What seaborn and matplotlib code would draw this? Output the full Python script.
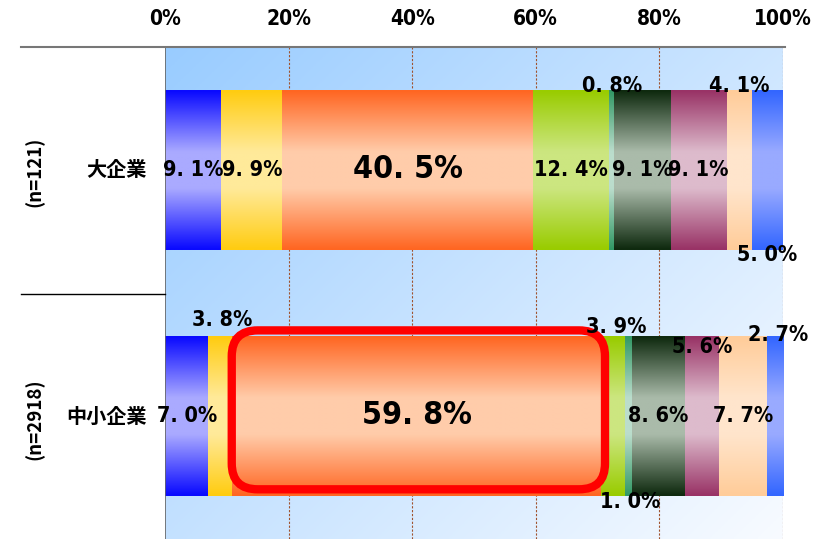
import numpy as np
import pandas as pd
import matplotlib
matplotlib.use("Agg")
import matplotlib.pyplot as plt
import seaborn as sns
from matplotlib.colors import to_rgb
from matplotlib.patches import FancyBboxPatch
from matplotlib.lines import Line2D
from matplotlib import font_manager

# ---- data ----
categories = ["大企業", "中小企業"]
sample_sizes = ["(n=121)", "(n=2918)"]
large_vals = [9.1, 9.9, 40.5, 12.4, 0.8, 9.1, 9.1, 4.1, 5.0]
sme_vals = [7.0, 3.8, 59.8, 3.9, 1.0, 8.6, 5.6, 7.7, 2.7]
tick_values = [0, 20, 40, 60, 80, 100]
tick_labels = ["0%", "20%", "40%", "60%", "80%", "100%"]

edge_colors = ["#0A0AFF", "#FFCC11", "#FF6622", "#99CC00", "#339966",
               "#0F2A0F", "#993366", "#FFCC99", "#3366FF"]
mid_colors = ["#AAAAFF", "#FFEA9A", "#FFCCAA", "#CCE680", "#BBDDCC",
              "#AABBAA", "#DDBBCC", "#FFE5CC", "#99AAFF"]

# label placement tweaks: (row, segment) -> (dx, dy) in data units
label_offsets = {
    (0, 4): (0.0, -0.34), (0, 7): (0.0, -0.34), (0, 8): (0.0, 0.345),
    (1, 1): (0.3, -0.39), (1, 3): (0.5, -0.36), (1, 4): (0.2, 0.35),
    (1, 6): (0.0, -0.28), (1, 8): (0.5, -0.33),
}
big_segments = {(0, 2), (1, 2)}

num_font = font_manager.FontProperties(family="DejaVu Sans", stretch="condensed",
                                       weight="bold")
cjk_family = ["Noto Sans CJK JP", "DejaVu Sans"]
plt.rcParams['font.family'] = cjk_family

fig = plt.figure(figsize=(8.31, 5.39), dpi=100)
ax = fig.add_axes([165 / 831, 0.0, 618 / 831, 1 - 47 / 539])

rows = [large_vals, sme_vals]
cum = np.cumsum(np.array(rows), axis=1)

# stacked bars via seaborn (draw largest cumulative first)
bar_width = 0.65
seg_patches = {}
for k in range(len(large_vals) - 1, -1, -1):
    df = pd.DataFrame({"cat": categories, "val": cum[:, k]})
    n_before = len(ax.patches)
    sns.barplot(data=df, x="val", y="cat", orient="h", color=edge_colors[k],
                width=bar_width, saturation=1, ax=ax, zorder=2)
    seg_patches[k] = ax.patches[n_before:]

ax.set_xlim(0, 100)
ax.set_ylim(1.5, -0.5)

# background diagonal gradient
nx, ny = 200, 200
xx, yy = np.meshgrid(np.linspace(0, 1, nx), np.linspace(0, 1, ny))
t = (xx * 0.55 + yy * 0.45)
c0 = np.array(to_rgb("#99CCFF"))
c1 = np.array(to_rgb("#F8FBFF"))
bg = c0[None, None, :] * (1 - t[..., None]) + c1[None, None, :] * t[..., None]
ax.imshow(bg, extent=(0, 100, 1.5, -0.5), aspect="auto", origin="upper", zorder=0)

# gradient fill for each segment
h = 64
tt = np.linspace(0, 1, h)
w = 1 - np.abs(2 * tt - 1)
w = np.clip(w * 1.3, 0, 1)
for k in range(len(large_vals)):
    e = np.array(to_rgb(edge_colors[k]))
    m = np.array(to_rgb(mid_colors[k]))
    grad = e[None, :] * (1 - w[:, None]) + m[None, :] * w[:, None]
    img = grad[:, None, :]
    for p in seg_patches[k]:
        y0 = p.get_y()
        yc = y0 + p.get_height() / 2
        r = int(round(yc))
        right = cum[r, k]
        left = right - rows[r][k]
        ax.imshow(img, extent=(left, right, y0 + p.get_height(), y0),
                  aspect="auto", origin="upper", zorder=3, interpolation="bilinear")

ax.set_xlim(0, 100)
ax.set_ylim(1.5, -0.5)

# grid lines
for v in tick_values[1:]:
    ax.axvline(v, color="#A0522D", linestyle=(0, (2, 1.5)), linewidth=0.8, zorder=1)
ax.axvline(0, color="#666666", linewidth=1.2, zorder=5)

# red rounded highlight box around SME main segment
rb_left, rb_right = 10.8, 71.2
rb_top, rb_bottom = 1 - 0.348, 1 + 0.298
box = FancyBboxPatch((rb_left, rb_top), rb_right - rb_left, rb_bottom - rb_top,
                     boxstyle="round,pad=0,rounding_size=4.2",
                     mutation_aspect=6.18 / 246,
                     fill=False, edgecolor="#FF0000", linewidth=6, zorder=6)
ax.add_patch(box)

# value labels
for r, vals in enumerate(rows):
    for k, v in enumerate(vals):
        x = cum[r, k] - v / 2
        dx, dy = label_offsets.get((r, k), (0.0, 0.0))
        big = (r, k) in big_segments
        txt = f"{v:.1f}".replace(".", ". ") + "%"
        fp = num_font.copy()
        fp.set_size(23 if big else 15.5)
        ax.text(x + dx, r + dy, txt, ha="center", va="center",
                fontproperties=fp, color="black", zorder=8)

# axes styling
ax.xaxis.tick_top()
ax.set_xticks(tick_values)
tfp = num_font.copy()
tfp.set_size(15)
ax.set_xticklabels(tick_labels, fontproperties=tfp)
ax.tick_params(axis="x", length=0, pad=13)
ax.set_yticks([])
ax.set_xlabel("")
ax.set_ylabel("")
for s in ax.spines.values():
    s.set_visible(False)

# category labels and sample sizes
for r, (cat, n) in enumerate(zip(categories, sample_sizes)):
    ax.text(-2.9, r, cat, ha="right", va="center", fontsize=14.5, fontweight="bold",
            transform=ax.transData, clip_on=False)
    fig.text(35 / 831, 1 - (172 + r * 247) / 539, n, rotation=90, ha="center",
             va="center", fontsize=13.5, fontweight="bold")

# table-like separator lines
fig.add_artist(Line2D([21 / 831, 785 / 831], [1 - 47 / 539, 1 - 47 / 539],
                      color="#777777", linewidth=1.5))
fig.add_artist(Line2D([21 / 831, 165 / 831], [1 - 294 / 539, 1 - 294 / 539],
                      color="black", linewidth=1.0))

fig.savefig("out.png", dpi=100)
